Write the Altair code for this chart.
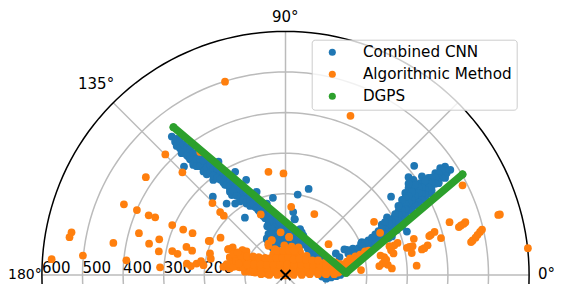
import numpy as np
import pandas as pd
import altair as alt

FONT = "DejaVu Sans"
names = ["Combined CNN", "Algorithmic Method", "DGPS"]
colors = ["#1f77b4", "#ff7f0e", "#2ca02c"]

# east / north offsets of each fix, in metres
cnn = [
 (-280,341),(-272,328),(-264,320),(-256,316),(-247,304),(-256,300),(-235,304),(-227,287),(-239,291),(-219,291),
 (-210,279),(-227,271),(-250,267),(-202,267),(-190,271),(-194,254),(-182,259),(-169,246),(-165,279),(-178,234),
 (-157,234),(-149,222),(-137,213),(-124,254),(-124,201),(-132,197),(-112,217),(-97,234),(-108,193),(-112,181),
 (-124,176),(-145,176),(-179,193),(-91,201),(-71,205),(-83,189),(-31,190),(-96,176),(-63,172),(-100,141),
 (-75,168),(-63,156),(-46,176),(-38,156),(-46,139),(-26,135),(-30,119),(-38,103),(-18,115),(-26,98),(-46,90),
 (-260,324),(-252,312),(-239,308),(-231,295),(-219,279),(-210,291),(-202,275),(-194,275),(-186,263),(-178,254),
 (-174,267),(-161,250),(-153,242),(-145,234),(-137,226),(-128,217),(-120,209),(-112,201),(-104,197),(-96,189),
 (-83,176),(-75,181),(-67,160),(-55,152),(-46,152),(-34,135),
 (-42,125),(-26,121),(-9,125),(22,138),(-30,109),(-42,101),(-14,109),(-46,88),(-26,101),(3,105),(23,109),(36,113),
 (44,97),(32,93),(19,88),(52,84),(60,72),(73,60),(81,51),(64,51),(27,68),(-9,84),(-18,76),(-32,68),(-42,76),
 (90,-4),(100,-9),(112,-6),(125,-3),(135,0),
 (393,267),(406,259),(397,251),(381,263),(385,247),(369,251),(365,234),(352,239),(344,222),(360,218),(348,206),
 (332,226),(336,243),(317,269),(303,241),(315,234),(303,214),(319,210),(332,206),(260,193),(295,202),(307,193),
 (291,185),(315,181),(287,173),(303,169),(278,156),(295,152),(250,142),(266,140),(282,140),(270,124),(237,124),
 (250,119),(299,107),(258,111),(233,103),(241,91),(221,91),(209,83),(225,78),(188,81),(196,70),(180,66),(209,66),
 (163,62),(151,62),(172,54),(287,119),(274,111),(254,91),(328,189),(344,189),(356,202),(377,226),(393,239),
 (311,169),(324,177),(282,128),(262,95),(124,53),(145,63),(166,65),(186,77),(133,44),(30,198),(57,212),(19,155),(23,137),
 # right band, body
 (393,255),(393,245),(385,258),(385,240),(377,250),(377,238),(377,228),(369,240),(369,225),(360,240),(360,228),(360,208),
 (352,228),(352,215),(352,200),(344,232),(344,210),(344,198),(336,215),(336,200),(336,185),(328,215),(328,202),(328,178),
 (319,222),(319,195),(319,172),(311,205),(311,185),(311,160),(303,225),(303,195),(303,178),(303,158),(295,190),(295,175),
 (295,162),(295,145),(287,185),(287,160),(287,148),(287,135),(278,170),(278,148),(278,132),(270,150),(270,135),(270,115),
 (262,130),(262,118),(262,108),(254,135),(254,125),(254,105),(245,130),(245,112),(245,100),(237,115),(237,100),(237,92),
 (229,108),(229,92),(229,85),(221,100),(221,82),(213,92),(213,75),(204,85),(204,72),(196,80),(196,62),(188,72),(188,58),
 (180,58),(172,62),(165,55),(155,52),
 # left band, body
 (-268,335),(-268,318),(-260,330),(-260,312),(-252,322),(-252,302),(-243,315),(-243,295),(-235,310),(-235,285),
 (-227,300),(-227,275),(-219,298),(-219,285),(-219,268),(-210,285),(-210,268),(-202,282),(-202,255),(-194,265),(-194,248),
 (-186,272),(-186,250),(-178,262),(-178,245),(-169,262),(-169,238),(-161,258),(-161,235),(-153,250),(-153,228),(-145,242),
 (-145,222),(-137,235),(-137,218),(-137,205),(-128,228),(-128,208),(-120,222),(-120,195),(-112,212),(-112,190),(-104,205),
 (-104,185),(-96,205),(-96,180),(-87,198),(-87,182),(-87,170),(-79,190),(-79,175),(-71,185),(-71,165),(-63,180),(-63,160),
 (-55,170),(-55,155),(-55,145),(-46,165),(-46,145),(-38,150),(-38,130),(-30,145),(-30,128),(-22,135),
 (-35,115),(-20,100),(-10,95),(0,115),(10,100),(15,115),(40,105),(45,85),(55,78),(70,65),(85,55),(95,45),(10,80),(35,80),(25,100),
 (-50,140),(-40,135),(-45,120),(-35,100),(-30,85),(-20,90),(-5,100),(5,90),(15,80),(25,85),(35,95),(45,75),(55,65),(65,60),(75,50),(-15,130),(-5,118),(15,100),
]
algo = [
 (-296,297),(-344,241),(-254,253),(-398,174),(-366,160),(-337,147),(-321,142),(-279,123),(-252,112),(-229,103),
 (-361,103),(-527,105),(-532,93),(-424,79),(-336,77),(-311,88),(-312,58),(-279,59),(-266,52),(-244,69),(-230,60),
 (-189,84),(-186,84),(-160,92),(-180,177),(-161,155),(-152,146),(-61,149),(-42,254),(-576,39),(-499,48),(-392,36),
 (-309,19),(-243,28),(-233,22),(-219,28),(-208,34),(-186,53),(-184,40),(-202,24),(-141,63),(-130,68),(-106,61),
 (-96,58),(-137,44),(-124,40),(-112,44),(-100,32),(-87,28),(-75,36),(-54,40),(-38,32),(-26,61),(-42,77),(-34,85),
 (-153,20),(-137,16),(-116,20),(-96,16),(-79,7),(-63,11),(-46,3),(-30,7),(-18,16),(-18,40),(-210,303),
 (-149,476),(160,392),
 (-5,250),(71,150),(14,168),(106,76),(218,131),(233,104),(436,221),(528,149),(524,148),(404,130),(427,118),(432,122),
 (439,126),(443,130),(484,112),(479,106),(473,99),(468,92),(461,85),(457,81),(597,66),(383,91),(367,106),(358,99),
 (354,96),(316,89),(313,71),(305,69),(299,67),(311,54),(350,73),(342,66),(336,63),(276,79),(268,73),(260,61),(266,53),
 (256,71),(323,23),(262,16),(252,25),(243,44),(239,28),(231,22),(234,48),(248,38),(186,12),
 (-133,65),(-141,64),(-106,60),(-83,39),(-137,43),(-133,27),(-116,39),(-104,43),(-100,27),(-112,19),(-92,15),(-75,19),
 (-63,35),(-55,39),(-59,15),(-42,23),(-30,43),(-26,64),(-42,72),(-34,86),(-12,105),(9,93),(15,70),(32,68),(36,56),
 (52,47),(-1,64),(-9,51),(-1,43),(-18,35),(-5,27),(7,39),(23,43),(19,27),(40,31),(56,27),(73,27),(89,23),
 (-42,6),(-59,4),(-75,6),(-26,10),(-9,10),(7,9),(23,10),(40,10),(56,6),(73,10),(89,9),(106,10),(122,15),(138,27),
 (130,6),(106,27),(122,31),(40,4),(15,4),(-9,4),(97,4),(64,15),(81,15),(48,19),(32,19),(15,19),(-1,15),(-18,19),
 (-34,10),(-50,15),(-67,23),(-79,27),(-96,39),(-120,27),(-124,47),(-145,27),
 (151,33),(159,41),(172,46),(184,50),(196,58),(163,25),(155,25),(172,33),(184,41),(130,19),(138,10),
 (9,94),(34,61),(51,46),(-3,73),
 # central wedge
 (-100,8),(-88,8),(-70,8),(-55,8),(-38,8),(-22,8),(-6,8),(12,8),(28,8),(45,8),(62,8),(78,8),(95,8),(112,8),(125,8),(140,12),
 (-128,20),(-105,20),(-85,20),(-68,22),(-52,22),(-36,22),(-24,22),(-8,20),(6,20),(24,20),(40,20),(56,20),(70,20),(88,20),(104,20),(118,22),(132,24),
 (-122,34),(-108,32),(-90,30),(-72,32),(-58,30),(-44,34),(-26,34),(-10,34),(2,34),(14,32),(30,32),(48,32),(64,32),(80,30),(96,30),(112,28),(128,28),
 (-30,52),(-18,50),(-4,52),(10,52),(24,50),(42,44),
 (145,20),(155,30),(165,35),(175,40),(185,48),(195,55),(205,60),
 # central wedge, filling the gaps
 (-80,14),(-60,14),(-44,14),(-28,14),(-12,14),(4,14),(20,14),(36,14),(52,14),(68,14),(84,14),(100,14),(116,14),(132,14),
 (-115,28),(-95,26),(-78,26),(-62,26),(-46,26),(-30,26),(-14,26),(4,26),(22,26),(38,26),(54,26),(68,26),(84,26),(100,24),
 (-110,48),(-95,46),(-80,46),(-66,44),(-50,42),(-36,42),(-22,42),(-8,42),(6,44),(20,38),(34,40),(50,38),(66,36),(80,36),
 (-128,52),(-118,56),(-20,60),(-6,60),(8,60),(20,60),(-60,2),(-40,0),(-20,0),(0,-1),(20,0),(40,0),(60,2),(80,2),(100,2),(120,2),
]
dgps = [(-276,364),(149,5),(436,248)]
origin = [(0, 0)]

ring_radii = [100, 200, 300, 400, 500]
outer_radius = 600
spoke_angles = [0, 45, 90, 135, 180, 225, 270, 315]
radial_labels = ["100", "200", "300", "400", "500", "600"]

rows = []
for name, pts in zip(names, [cnn, algo, dgps]):
    rows += [{"east": e, "north": n, "series": name} for e, n in pts]
points = pd.DataFrame(rows)

t = np.radians(np.arange(0, 361, 2))
rings = pd.DataFrame([{"east": r*np.cos(a), "north": r*np.sin(a), "ring": r, "k": i}
                      for r in ring_radii for i, a in enumerate(t)])
outer = pd.DataFrame([{"east": outer_radius*np.cos(a), "north": outer_radius*np.sin(a), "k": i}
                      for i, a in enumerate(t)])
spokes = pd.DataFrame([{"east": s*outer_radius*np.cos(np.radians(a)), "north": s*outer_radius*np.sin(np.radians(a)), "spoke": a, "k": s}
                       for a in spoke_angles for s in (0, 1)])

xs = alt.Scale(domain=[-683.5, 661.3], nice=False, zero=False)
ys = alt.Scale(domain=[-22.2, 657.6], nice=False, zero=False)
X = alt.X("east:Q", scale=xs, axis=None)
Y = alt.Y("north:Q", scale=ys, axis=None)

ring_l = alt.Chart(rings).mark_line(color="#bbbbbb", strokeWidth=1.5, clip=True).encode(x=X, y=Y, detail="ring:N", order="k:Q")
spoke_l = alt.Chart(spokes).mark_line(color="#bbbbbb", strokeWidth=1.5, clip=True).encode(x=X, y=Y, detail="spoke:N", order="k:Q")
outer_l = alt.Chart(outer).mark_line(color="black", strokeWidth=1.5, clip=True).encode(x=X, y=Y, order="k:Q")

rad_df = pd.DataFrame({"east": [-r for r in ring_radii + [outer_radius]], "north": [5]*6, "label": radial_labels})
rad_t = alt.Chart(rad_df).mark_text(font=FONT, fontSize=15, align="left", baseline="alphabetic", color="black").encode(x=X, y=Y, text="label:N")

ang = pd.DataFrame({"label": ["90°", "135°", "0°"],
                    "px": [264, 70, 530], "py": [2, 69, 259]})
ang_t = alt.Chart(ang).mark_text(font=FONT, fontSize=15, align="left", baseline="top", color="black").encode(
    x=alt.X("px:Q", scale=None, axis=None), y=alt.Y("py:Q", scale=None, axis=None), text="label:N")
ang_w = pd.DataFrame({"label": ["180°"], "px": [0], "py": [260]})
ang_t2 = alt.Chart(ang_w).mark_text(font=FONT, fontSize=14, align="left", baseline="top", color="black").encode(
    x=alt.X("px:Q", scale=None, axis=None), y=alt.Y("py:Q", scale=None, axis=None), text="label:N")

pts = alt.Chart(points).mark_point(filled=True, size=60, opacity=1, strokeWidth=0).encode(
    x=X, y=Y,
    color=alt.Color("series:N", scale=alt.Scale(domain=names, range=colors),
        legend=alt.Legend(title=None, orient="none", legendX=303.7, legendY=31.7, padding=5,
            fillColor="#ffffffcc", strokeColor="#cccccc", cornerRadius=3,
            labelFont=FONT, labelFontSize=15.2, labelColor="black", labelOffset=23,
            symbolType="circle", symbolSize=50, symbolStrokeWidth=0, symbolOffset=8, rowPadding=6)),
)
green_df = pd.DataFrame(dgps, columns=["east", "north"]).assign(k=[0, 1, 2])
green = alt.Chart(green_df).mark_line(color=colors[2], strokeWidth=7.5, strokeCap="round", strokeJoin="round").encode(x=X, y=Y, order="k:Q")
cross = alt.Chart(pd.DataFrame(origin, columns=["east", "north"])).mark_point(
    shape="M-1,-1L1,1M-1,1L1,-1", color="black", size=100, strokeWidth=2, opacity=1).encode(x=X, y=Y)

chart = alt.layer(ring_l, spoke_l, outer_l, rad_t, ang_t, ang_t2, pts, green, cross).resolve_scale(
    x="shared", y="shared"
).properties(
    width=546, height=276, padding=0, autosize=alt.AutoSizeParams(type="none"), background="white"
).configure_view(stroke=None)

chart.save("out.html", embed_options={"renderer": "svg", "actions": False})
